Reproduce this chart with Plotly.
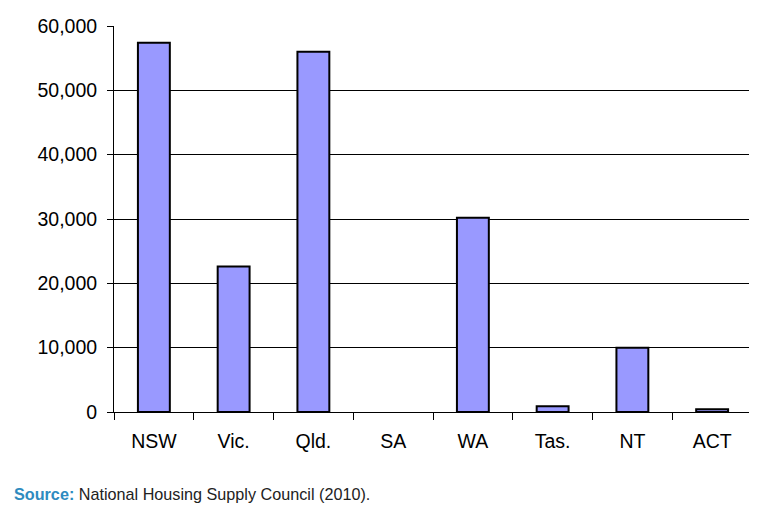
import plotly.graph_objects as go

states = ["NSW", "Vic.", "Qld.", "SA", "WA", "Tas.", "NT", "ACT"]
shortfall = [57400, 22600, 56000, None, 30200, 900, 10000, 430]
y_ticks = [0, 10000, 20000, 30000, 40000, 50000, 60000]

fig = go.Figure()

fig.add_trace(
    go.Bar(
        x=states,
        y=shortfall,
        marker={"color": "#9999FF", "line": {"color": "black", "width": 2}},
        width=0.4,
    )
)

# the page body has an 8px margin, so the figure is shifted by that amount
fig.update_layout(
    width=749,
    height=499,
    margin={"l": 106, "r": 5, "t": 18, "b": 95},
    paper_bgcolor="white",
    plot_bgcolor="white",
    showlegend=False,
    font={"family": "Liberation Sans, Arial, sans-serif", "size": 19.5, "color": "black"},
    xaxis={
        "showline": True,
        "linecolor": "black",
        "linewidth": 1,
        "ticks": "outside",
        "tickson": "boundaries",
        "ticklen": 7,
        "tickcolor": "black",
        "ticklabelstandoff": 12,
        "showgrid": False,
    },
    yaxis={
        "range": [0, 60000],
        "tickvals": y_ticks,
        "tickformat": ",",
        "showline": True,
        "linecolor": "black",
        "linewidth": 1,
        "ticks": "outside",
        "ticklen": 6,
        "tickcolor": "black",
        "ticklabelstandoff": 6,
        "showgrid": True,
        "gridcolor": "black",
        "gridwidth": 1,
        "zeroline": False,
    },
    annotations=[
        {
            "text": "<b><span style='color:#2E8BC0'>Source:</span></b> National Housing Supply Council (2010).",
            "xref": "paper",
            "yref": "paper",
            "x": -0.16,
            "y": -0.212,
            "xanchor": "left",
            "yanchor": "middle",
            "showarrow": False,
            "font": {"size": 16.2, "color": "#222222"},
        }
    ],
)

fig.write_html("out.html")
